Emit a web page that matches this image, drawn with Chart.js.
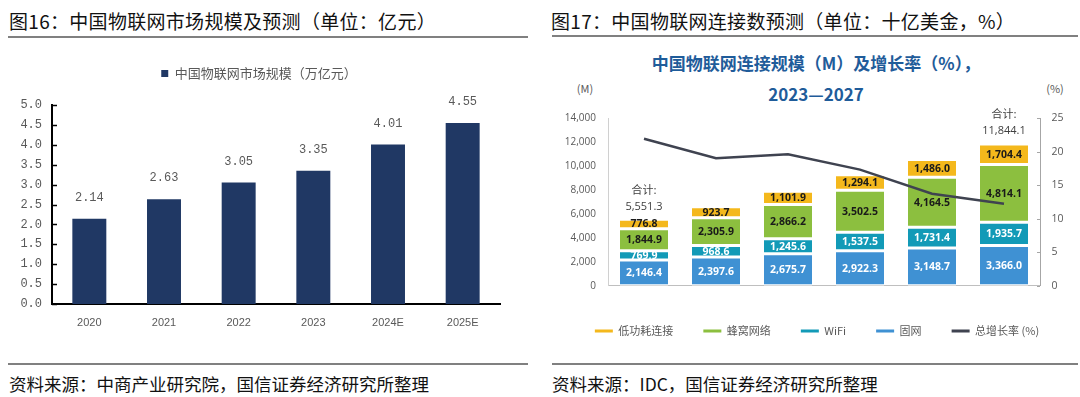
<!DOCTYPE html>
<html lang="zh-CN">
<head>
<meta charset="utf-8">
<title>中国物联网市场规模与连接数预测</title>
<script src="https://cdn.jsdelivr.net/npm/chart.js@4.4.1/dist/chart.umd.min.js"></script>
<style>
  html, body { margin: 0; padding: 0; background: #fff; }
  body { position: relative; width: 1080px; height: 397px; overflow: hidden;
         font-family: "Noto Sans CJK SC", "Noto Sans", sans-serif; color: #111; }
  .abs { position: absolute; white-space: nowrap; }
  .fig-title { top: 7px; font-size: 19px; line-height: 28px; letter-spacing: 0.3px; }
  .rule { height: 2px; background: #808080; }
  .src-rule { height: 1.5px; background: #808080; }
  .source { top: 371px; font-size: 17.5px; line-height: 26px; }
  .inner-title { left: 552px; width: 528px; text-align: center; font-size: 17px;
                 font-weight: bold; color: #1f5c9a; line-height: 22px; }
  .unit { width: 40px; text-align: center; font-size: 11px; color: #595959; line-height: 14px; }
  canvas { position: absolute; }
</style>
</head>
<body>
<div class="abs fig-title" style="left:9px">图16：中国物联网市场规模及预测（单位：亿元）</div>
<div class="abs rule" style="left:8px;top:36px;width:520px"></div>
<div class="abs fig-title" style="left:551px">图17：中国物联网连接数预测（单位：十亿美金，%）</div>
<div class="abs rule" style="left:552px;top:35px;width:526px"></div>

<div class="abs inner-title" style="top:52px">中国物联网连接规模（M）及增长率（%），</div>
<div class="abs inner-title" style="top:83px">2023—2027</div>
<div class="abs unit" style="left:565px;top:81px">(M)</div>
<div class="abs unit" style="left:1035px;top:81px">(%)</div>

<canvas id="marketChart" width="540" height="300" style="left:0;top:50px"></canvas>
<canvas id="connChart" width="540" height="250" style="left:540px;top:100px"></canvas>

<div class="abs src-rule" style="left:8px;top:363px;width:520px"></div>
<div class="abs src-rule" style="left:552px;top:363px;width:526px"></div>
<div class="abs source" style="left:9px">资料来源：中商产业研究院，国信证券经济研究所整理</div>
<div class="abs source" style="left:552px">资料来源：IDC，国信证券经济研究所整理</div>

<script>
// Fig.16 market size (万亿元)
const marketYears = ['2020', '2021', '2022', '2023', '2024E', '2025E'];
const marketSize = [2.14, 2.63, 3.05, 3.35, 4.01, 4.55];

// Fig.17 IoT connections (M) by type, and total growth (%)
const connYears = ['2022', '2023', '2024', '2025', '2026', '2027'];
const fixedLine = [2146.4, 2397.6, 2675.7, 2922.3, 3148.7, 3366.0];
const wifi = [769.9, 968.6, 1245.6, 1537.5, 1731.4, 1935.7];
const cellular = [1844.9, 2305.9, 2866.2, 3502.5, 4164.5, 4814.1];
const lowPower = [776.8, 923.7, 1101.9, 1294.1, 1486.0, 1704.4];
const growthRate = [21.9, 19.0, 19.6, 17.3, 13.7, 12.2];
const totalLabels = ['5,551.3', '', '', '', '', '11,844.1'];

// legend order in fig.17 (dataset index -> position)
const legendRank = [3, 2, 1, 0, 4];

const fmt = v => v.toLocaleString('en-US', {minimumFractionDigits: 1, maximumFractionDigits: 1});

// Short tick marks drawn on the inner side of an axis
const innerTicks = {
    id: 'innerTicks',
    afterDraw(chart, args, opts) {
        const ctx = chart.ctx;
        (opts.axes || []).forEach(a => {
            const scale = chart.scales[a.id];
            const x = a.side === 'left' ? scale.right : scale.left;
            const dir = a.side === 'left' ? 1 : -1;
            ctx.save();
            ctx.strokeStyle = a.color;
            ctx.lineWidth = a.width;
            scale.ticks.forEach(t => {
                const y = Math.round(scale.getPixelForValue(t.value)) + 0.5;
                ctx.beginPath();
                ctx.moveTo(x, y);
                ctx.lineTo(x + dir * a.length, y);
                ctx.stroke();
            });
            ctx.restore();
        });
    }
};

// Keeps extra room between the legend and the plot
const legendGap = {
    id: 'legendGap',
    beforeLayout(chart, args, opts) {
        const legend = chart.legend;
        if (!legend || legend._gapPatched) return;
        const fit = legend.fit;
        legend.fit = function () {
            fit.call(this);
            this.height += opts.gap || 0;
        };
        legend._gapPatched = true;
    }
};

// Value above each bar of fig.16
const barValues = {
    id: 'barValues',
    afterDatasetsDraw(chart, args, opts) {
        const ctx = chart.ctx;
        const ds = chart.data.datasets[0];
        ctx.save();
        ctx.font = opts.font;
        ctx.fillStyle = opts.color;
        ctx.textAlign = 'center';
        ctx.textBaseline = 'middle';
        chart.getDatasetMeta(0).data.forEach((bar, i) => {
            ctx.fillText(ds.data[i].toFixed(2), bar.x, bar.y - opts.offset);
        });
        ctx.restore();
    }
};

// Segment values inside the stacks of fig.17, and the totals on top
const stackLabels = {
    id: 'stackLabels',
    afterDatasetsDraw(chart, args, opts) {
        const ctx = chart.ctx;
        ctx.save();
        ctx.textAlign = 'center';
        ctx.textBaseline = 'middle';
        chart.data.datasets.forEach((ds, di) => {
            if (ds.type === 'line') return;
            ctx.font = opts.font;
            ctx.fillStyle = ds.labelColor;
            chart.getDatasetMeta(di).data.forEach((bar, i) => {
                ctx.fillText(fmt(ds.data[i]), bar.x, (bar.y + bar.base) / 2 + 0.5);
            });
        });
        ctx.fillStyle = opts.totalColor;
        chart.getDatasetMeta(3).data.forEach((bar, i) => {
            if (!totalLabels[i]) return;
            ctx.font = opts.totalFont;
            ctx.fillText(totalLabels[i], bar.x, bar.y - 13);
            ctx.font = opts.captionFont;
            ctx.fillText('合计:', bar.x, bar.y - 30);
        });
        ctx.restore();
    }
};

new Chart(document.getElementById('marketChart'), {
    type: 'bar',
    data: {
        labels: marketYears,
        datasets: [{
            label: '中国物联网市场规模（万亿元）',
            data: marketSize,
            backgroundColor: '#203864',
            categoryPercentage: 0.455,
            barPercentage: 1
        }]
    },
    plugins: [legendGap, innerTicks, barValues],
    options: {
        responsive: false,
        animation: false,
        devicePixelRatio: 1,
        layout: { padding: { top: 7, left: 18, right: 40, bottom: 0 } },
        plugins: {
            legend: {
                position: 'top',
                labels: {
                    boxWidth: 7,
                    boxHeight: 7,
                    padding: 10,
                    color: '#595959',
                    font: { family: 'Noto Sans CJK SC', size: 13 }
                }
            },
            tooltip: { enabled: false },
            legendGap: { gap: 15 },
            innerTicks: { axes: [{ id: 'y', side: 'left', length: 5, color: '#000', width: 1.5 }] },
            barValues: { font: '12px "Liberation Mono"', color: '#595959', offset: 21 }
        },
        scales: {
            x: {
                grid: { display: false, drawTicks: false },
                border: { color: '#000', width: 2 },
                ticks: { color: '#595959', padding: 12, font: { family: 'Liberation Sans', size: 11 } },
                afterFit(scale) { scale.height = 46; }
            },
            y: {
                min: 0,
                max: 5,
                grid: { display: false, drawTicks: false },
                border: { color: '#000', width: 2 },
                ticks: {
                    stepSize: 0.5,
                    padding: 10,
                    color: '#595959',
                    font: { family: 'Liberation Mono', size: 12 },
                    callback: v => v.toFixed(1)
                },
                afterFit(scale) { scale.width = 34; }
            }
        }
    }
});

new Chart(document.getElementById('connChart'), {
    type: 'bar',
    data: {
        labels: connYears,
        datasets: [
            { label: '固网', data: fixedLine, backgroundColor: '#3f91d3', labelColor: '#fff', order: 1 },
            { label: 'WiFi', data: wifi, backgroundColor: '#129ab7', labelColor: '#fff', order: 1 },
            { label: '蜂窝网络', data: cellular, backgroundColor: '#8cbf3f', labelColor: '#1a1a1a', order: 1 },
            { label: '低功耗连接', data: lowPower, backgroundColor: '#f4b81c', labelColor: '#1a1a1a', order: 1 },
            {
                type: 'line',
                label: '总增长率 (%)',
                data: growthRate,
                yAxisID: 'y1',
                borderColor: '#3f4350',
                backgroundColor: '#3f4350',
                borderWidth: 2.5,
                pointRadius: 0,
                tension: 0,
                order: 0
            }
        ]
    },
    plugins: [innerTicks, stackLabels],
    options: {
        responsive: false,
        animation: false,
        devicePixelRatio: 1,
        layout: { padding: { top: 6, left: 14, right: 0, bottom: 3.5 } },
        datasets: {
            bar: {
                categoryPercentage: 0.667,
                barPercentage: 1,
                borderColor: '#fff',
                borderWidth: { top: 1.5, bottom: 1.5, left: 0, right: 0 },
                borderSkipped: false
            }
        },
        plugins: {
            legend: {
                position: 'bottom',
                labels: {
                    boxWidth: 18,
                    boxHeight: 3,
                    padding: 30,
                    color: '#595959',
                    font: { family: 'Noto Sans CJK SC', size: 11 },
                    sort: (a, b) => legendRank[a.datasetIndex] - legendRank[b.datasetIndex],
                    generateLabels(chart) {
                        return Chart.defaults.plugins.legend.labels.generateLabels(chart)
                            .map(item => Object.assign(item, { lineWidth: 0 }));
                    }
                }
            },
            tooltip: { enabled: false },
            innerTicks: { axes: [{ id: 'y1', side: 'right', length: 3, color: '#a6a6a6', width: 1 }] },
            stackLabels: {
                font: 'bold 10.5px "Open Sans"',
                totalFont: '11px "Open Sans"',
                captionFont: '11px "Noto Sans CJK SC"',
                totalColor: '#404040'
            }
        },
        scales: {
            x: {
                stacked: true,
                grid: { display: false, drawTicks: false },
                border: { color: '#bfbfbf', width: 1 },
                ticks: { color: '#404040', padding: 10.5, font: { family: 'Open Sans', size: 10.5 } },
                afterFit(scale) { scale.height = 9.8; }
            },
            y: {
                stacked: true,
                min: 0,
                max: 14000,
                grid: { display: false, drawTicks: false },
                border: { color: '#d0d0d0', width: 1 },
                ticks: {
                    stepSize: 2000,
                    padding: 12,
                    color: '#595959',
                    font: { family: 'Open Sans', size: 10 },
                    callback: v => v.toLocaleString('en-US')
                },
                afterFit(scale) { scale.width = 54; }
            },
            y1: {
                position: 'right',
                min: 0,
                max: 25,
                grid: { display: false, drawTicks: false },
                border: { color: '#a6a6a6', width: 1 },
                ticks: { stepSize: 5, padding: 11.5, color: '#595959', font: { family: 'Open Sans', size: 10.5 } },
                afterFit(scale) { scale.width = 40; }
            }
        }
    }
});
</script>
</body>
</html>
